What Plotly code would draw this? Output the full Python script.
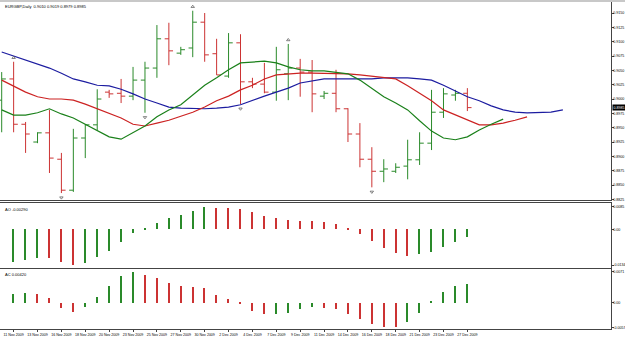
import plotly.graph_objects as go

# ---------------- data ----------------
dates = ["10 Nov 2009", "11 Nov 2009", "12 Nov 2009", "13 Nov 2009", "15 Nov 2009",
         "16 Nov 2009", "17 Nov 2009", "18 Nov 2009", "19 Nov 2009", "20 Nov 2009",
         "22 Nov 2009", "23 Nov 2009", "24 Nov 2009", "25 Nov 2009", "26 Nov 2009",
         "27 Nov 2009", "29 Nov 2009", "30 Nov 2009", "1 Dec 2009", "2 Dec 2009",
         "3 Dec 2009", "4 Dec 2009", "6 Dec 2009", "7 Dec 2009", "8 Dec 2009",
         "9 Dec 2009", "10 Dec 2009", "11 Dec 2009", "13 Dec 2009", "14 Dec 2009",
         "15 Dec 2009", "16 Dec 2009", "17 Dec 2009", "18 Dec 2009", "20 Dec 2009",
         "21 Dec 2009", "22 Dec 2009", "23 Dec 2009", "24 Dec 2009", "27 Dec 2009"]

open_ = [0.8998, 0.9035, 0.8956, 0.8925, 0.8941, 0.8895, 0.8841, 0.8932, 0.8955, 0.9012,
         0.9010, 0.9005, 0.9033, 0.9054, 0.9105, 0.9080, 0.9089, 0.9134, 0.9079, 0.9040,
         0.9098, 0.9030, 0.9026, 0.9012, 0.9044, 0.9054, 0.9047, 0.9005, 0.9010, 0.8983,
         0.8939, 0.8895, 0.8874, 0.8874, 0.8883, 0.8894, 0.8923, 0.8977, 0.9007, 0.9010]
high = [0.9047, 0.9065, 0.8960, 0.8942, 0.8981, 0.8906, 0.8948, 0.8956, 0.9017, 0.9016,
        0.9035, 0.9056, 0.9065, 0.9129, 0.9133, 0.9091, 0.9154, 0.9150, 0.9105, 0.9115,
        0.9113, 0.9037, 0.9063, 0.9091, 0.9096, 0.9070, 0.9068, 0.9014, 0.9051, 0.8984,
        0.8958, 0.8916, 0.8895, 0.8888, 0.8929, 0.8942, 0.9016, 0.9019, 0.9016, 0.9019]
low = [0.8942, 0.8942, 0.8906, 0.8923, 0.8871, 0.8836, 0.8838, 0.8897, 0.8946, 0.9002,
       0.8993, 0.8998, 0.8976, 0.9037, 0.9059, 0.9077, 0.9073, 0.9065, 0.9042, 0.9037,
       0.8991, 0.9019, 0.9010, 0.8997, 0.8998, 0.9004, 0.8977, 0.9000, 0.8977, 0.8925,
       0.8881, 0.8846, 0.8855, 0.8871, 0.8860, 0.8885, 0.8911, 0.8967, 0.8997, 0.8979]
close = [0.9035, 0.8956, 0.8939, 0.8941, 0.8897, 0.8841, 0.8932, 0.8955, 0.9000, 0.9009,
         0.9005, 0.9033, 0.9054, 0.9105, 0.9084, 0.9086, 0.9134, 0.9077, 0.9042, 0.9098,
         0.9030, 0.9026, 0.9012, 0.9051, 0.9054, 0.9047, 0.9009, 0.9010, 0.8983, 0.8939,
         0.8895, 0.8874, 0.8878, 0.8881, 0.8894, 0.8923, 0.8977, 0.9009, 0.9010, 0.8985]

# Alligator lines (already shifted forward: jaw +8, teeth +5, lips +3 bars)
jaw = [0.9082, 0.9075, 0.9068, 0.9061, 0.9054, 0.9045, 0.9035, 0.9030, 0.9024, 0.9023,
       0.9017, 0.9009, 0.9000, 0.8993, 0.8986, 0.8984, 0.8983, 0.8983, 0.8984, 0.8986,
       0.8990, 0.8998, 0.9005, 0.9012, 0.9019, 0.9028, 0.9031, 0.9035, 0.9035, 0.9035,
       0.9035, 0.9035, 0.9037, 0.9037, 0.9037, 0.9035, 0.9033, 0.9024, 0.9014, 0.9004,
       0.8997, 0.8988, 0.8981, 0.8977, 0.8976, 0.8976, 0.8977, 0.8981]
teeth = [0.9033, 0.9023, 0.9012, 0.9004, 0.9000, 0.9000, 0.8998, 0.8991, 0.8983, 0.8976,
         0.8967, 0.8956, 0.8953, 0.8958, 0.8963, 0.8970, 0.8977, 0.8986, 0.8997, 0.9005,
         0.9016, 0.9024, 0.9035, 0.9042, 0.9044, 0.9045, 0.9045, 0.9045, 0.9045, 0.9044,
         0.9042, 0.9040, 0.9038, 0.9035, 0.9023, 0.9010, 0.8997, 0.8981, 0.8972, 0.8963,
         0.8955, 0.8955, 0.8958, 0.8963, 0.8969]
lips = [0.8981, 0.8972, 0.8972, 0.8976, 0.8983, 0.8974, 0.8967, 0.8956, 0.8944, 0.8934,
        0.8930, 0.8941, 0.8953, 0.8969, 0.8981, 0.8990, 0.9007, 0.9024, 0.9037, 0.9051,
        0.9063, 0.9065, 0.9066, 0.9063, 0.9056, 0.9051, 0.9049, 0.9049, 0.9047, 0.9044,
        0.9033, 0.9019, 0.9004, 0.8993, 0.8981, 0.8962, 0.8944, 0.8932, 0.8929, 0.8934,
        0.8946, 0.8956, 0.8965]

frac_up = [1, 16, 24]
frac_down = [5, 12, 20, 31]

# Awesome Oscillator and Accelerator Oscillator, bars 1..39
ao = [-0.0121, -0.0115, -0.0106, -0.0109, -0.0124, -0.0134, -0.0125, -0.0105, -0.0080,
      -0.0046, -0.0015, 0.0004, 0.0025, 0.0041, 0.0054, 0.0069, 0.0085, 0.0081, 0.0080,
      0.0076, 0.0064, 0.0050, 0.0044, 0.0035, 0.0033, 0.0031, 0.0026, 0.0020, 0.0003,
      -0.0019, -0.0044, -0.0069, -0.0088, -0.0099, -0.0094, -0.0084, -0.0065, -0.0046, -0.0029]
ac = [0.0021, 0.0022, 0.0019, 0.0010, -0.0012, -0.0021, -0.0009, 0.0014, 0.0038, 0.0062,
      0.0071, 0.0064, 0.0056, 0.0046, 0.0038, 0.0035, 0.0033, 0.0018, 0.0008, -0.0003,
      -0.0018, -0.0027, -0.0025, -0.0023, -0.0015, -0.0011, -0.0012, -0.0014, -0.0025,
      -0.0038, -0.0050, -0.0055, -0.0057, -0.0044, -0.0023, 0.0002, 0.0025, 0.0039, 0.0042]

price_ticks = [0.8825, 0.8850, 0.8875, 0.8900, 0.8925, 0.8950, 0.8975, 0.9000,
               0.9025, 0.9050, 0.9075, 0.9100, 0.9125, 0.9150]
date_tick_idx = [1, 3, 5, 7, 9, 11, 13, 15, 17, 19, 21, 23, 25, 27, 29, 31, 33, 35, 37, 39]

# ---------------- styling ----------------
GREEN = "#2a8a2a"
RED = "#cc3333"
FONT = "Liberation Sans"
W, H = 625, 338
LBL = 3.6

def py(pix):  # paper fraction from pixel row
    return 1 - pix / H

idx = list(range(len(close)))
osc_idx = list(range(1, len(close)))

def osc_colors(vals):
    cols = []
    for i, v in enumerate(vals):
        if i == 0 or v > vals[i - 1]:
            cols.append(GREEN)
        else:
            cols.append(RED)
    return cols

fig = go.Figure()

fig.add_trace(go.Ohlc(
    x=idx, open=open_, high=high, low=low, close=close,
    increasing=dict(line=dict(color=GREEN, width=1)),
    decreasing=dict(line=dict(color=RED, width=1)),
    tickwidth=0.35, xaxis="x", yaxis="y", hoverinfo="skip", showlegend=False))

fig.add_trace(go.Scatter(x=list(range(len(jaw))), y=jaw, mode="lines",
                         line=dict(color="#1c1ca0", width=1.2), xaxis="x", yaxis="y",
                         showlegend=False))
fig.add_trace(go.Scatter(x=list(range(len(teeth))), y=teeth, mode="lines",
                         line=dict(color="#cc2222", width=1.2), xaxis="x", yaxis="y",
                         showlegend=False))
fig.add_trace(go.Scatter(x=list(range(len(lips))), y=lips, mode="lines",
                         line=dict(color="#1a801a", width=1.2), xaxis="x", yaxis="y",
                         showlegend=False))

fig.add_trace(go.Scatter(x=frac_up, y=[high[i] + 0.0007 for i in frac_up], mode="markers",
                         marker=dict(symbol="triangle-up-open", size=3, color="#666666",
                                     line=dict(width=0.8)),
                         xaxis="x", yaxis="y", showlegend=False))
fig.add_trace(go.Scatter(x=frac_down, y=[low[i] - 0.0008 for i in frac_down], mode="markers",
                         marker=dict(symbol="triangle-down-open", size=3, color="#666666",
                                     line=dict(width=0.8)),
                         xaxis="x", yaxis="y", showlegend=False))

fig.add_trace(go.Bar(x=osc_idx, y=ao, marker=dict(color=osc_colors(ao), line=dict(width=0)),
                     width=0.12, xaxis="x2", yaxis="y2", showlegend=False))
fig.add_trace(go.Bar(x=osc_idx, y=ac, marker=dict(color=osc_colors(ac), line=dict(width=0)),
                     width=0.12, xaxis="x3", yaxis="y3", showlegend=False))

XR = [-0.142, 51.03]
XD = [0, 611 / W]
axis_common = dict(showgrid=False, zeroline=False, linecolor="#444444", linewidth=1,
                   automargin=False)
yaxis_common = dict(side="right", ticks="outside", ticklen=1.5, tickcolor="#444444",
                    showline=True, tickfont=dict(size=LBL), ticklabelstandoff=-1)

ao_max, ao_min = max(ao), min(ao)
ac_max, ac_min = max(ac), min(ac)

fig.update_layout(
    width=W, height=H, margin=dict(l=0, r=0, t=0, b=0, autoexpand=False),
    paper_bgcolor="white", plot_bgcolor="white", bargap=0,
    font=dict(family=FONT, size=4, color="black"),
    xaxis=dict(domain=XD, range=XR, anchor="y", showticklabels=False, ticks="",
               showline=True, rangeslider=dict(visible=False), **axis_common),
    yaxis=dict(domain=[py(200), py(2)], range=[0.88239, 0.91692],
               anchor="x", tickvals=price_ticks, ticktext=[f"{v:.4f}" for v in price_ticks],
               **yaxis_common, **axis_common),
    xaxis2=dict(domain=XD, range=XR, anchor="y2", showticklabels=False, ticks="",
                showline=True, mirror=True, **axis_common),
    yaxis2=dict(domain=[py(268), py(203)], range=[-0.014513, 0.009863],
                anchor="x2", tickvals=[ao_min, 0, ao_max],
                ticktext=[f"{ao_min:.4f}", "0.00", f"{ao_max:.4f}"],
                **yaxis_common, **axis_common),
    xaxis3=dict(domain=XD, range=XR, anchor="y3", tickvals=date_tick_idx,
                ticktext=[dates[i] for i in date_tick_idx], ticks="outside", ticklen=2,
                tickangle=0, tickcolor="#444444", tickfont=dict(size=LBL), showline=True,
                mirror=True, **axis_common),
    yaxis3=dict(domain=[py(329), py(269)], range=[-0.006049, 0.007751],
                anchor="x3", tickvals=[ac_min, 0, ac_max],
                ticktext=[f"{ac_min:.4f}", "0.00", f"{ac_max:.4f}"],
                **yaxis_common, **axis_common),
)

# top gray strip
fig.add_shape(type="rect", xref="paper", yref="paper", x0=0, x1=1, y0=py(2), y1=1,
              fillcolor="#c8c8c8", line=dict(width=0), layer="above")

# header texts
fig.add_annotation(xref="paper", yref="paper", x=0.004, y=py(2.5), xanchor="left", yanchor="top",
                   text=f"EURGBP,Daily  {open_[-1]:.4f} {high[-1]:.4f} {low[-1]:.4f} {close[-1]:.4f}",
                   showarrow=False, font=dict(size=4, color="black"))
fig.add_annotation(xref="paper", yref="paper", x=0.004, y=py(204.5), xanchor="left", yanchor="top",
                   text=f"AO {ao[-1]:.5f}", showarrow=False, font=dict(size=4, color="black"))
fig.add_annotation(xref="paper", yref="paper", x=0.004, y=py(270), xanchor="left", yanchor="top",
                   text=f"AC {ac[-1]:.5f}", showarrow=False, font=dict(size=4, color="black"))

# current price box on the price scale
fig.add_annotation(xref="paper", yref="y", x=612 / W, y=close[-1], xanchor="left", yanchor="middle",
                   text=f"{close[-1]:.4f}", showarrow=False, bgcolor="black", borderpad=0.5,
                   font=dict(size=LBL, color="white"))

fig.write_html("out.html")
